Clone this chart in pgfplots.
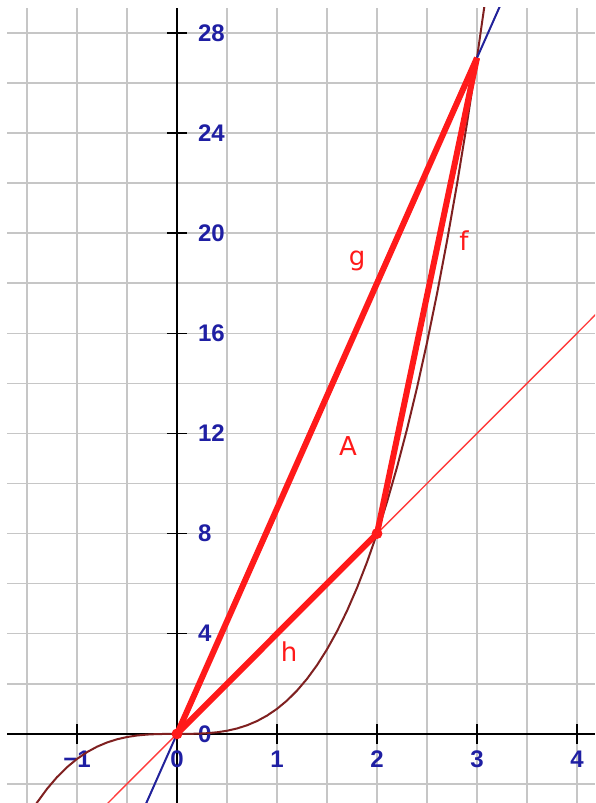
\documentclass[border=0pt]{standalone}
\usepackage{fontspec}
\setmainfont{Liberation Sans}
\newfontfamily\lblfont{DejaVu Sans}
\usepackage{pgfplots}
\pgfplotsset{compat=1.18}
\definecolor{gridgray}{HTML}{C6C6C6}
\definecolor{ticblue}{HTML}{1F1FA3}
\definecolor{segred}{HTML}{FF1A1A}
\definecolor{cubred}{HTML}{7F2020}
\definecolor{lineblue}{HTML}{22229A}
\definecolor{thinred}{HTML}{FF3B3B}

\begin{document}
\begin{tikzpicture}
\useasboundingbox (-3.5pt,0) rectangle (294pt,401.5pt);
\fill[white] (-3.5pt,0) rectangle (294pt,401.5pt);
\begin{axis}[
  at={(0,0)}, anchor=south west,
  scale only axis, width=294pt, height=397.5pt,
  xmin=-1.70, xmax=4.18, ymin=-2.76, ymax=28.99,
  enlargelimits=false,
  axis lines=middle,
  axis line style={-, black, line width=1pt},
  xtick={-1,0,1,2,3,4}, xticklabels={−1,0,1,2,3,4},
  ytick={0,4,...,28}, yticklabels={0,4,8,12,16,20,24,28},
  minor xtick={-1.5,-1,...,4},
  minor ytick={-2,0,...,28},
  grid=minor,
  minor grid style={gridgray, line width=0.75pt},
  minor tick length=0pt,
  major tick length=10pt,
  tick align=center,
  tick style={black, line width=0.75pt},
  hide obscured x ticks=false,
  hide obscured y ticks=false,
  ticklabel style={font=\fontsize{12}{14}\selectfont\bfseries, text=ticblue},
  xticklabel style={anchor=north, yshift=0pt},
  yticklabel style={anchor=west, xshift=12pt},
]
% cubic y = x^3
\addplot[cubred, line width=1pt] coordinates {
  (-1.7,-4.913) (-1.6,-4.096) (-1.5,-3.375) (-1.4,-2.744) (-1.3,-2.197)
  (-1.2,-1.728) (-1.1,-1.331) (-1.0,-1) (-0.9,-0.729) (-0.8,-0.512)
  (-0.7,-0.343) (-0.6,-0.216) (-0.5,-0.125) (-0.4,-0.064) (-0.3,-0.027)
  (-0.2,-0.008) (-0.1,-0.001) (0,0) (0.1,0.001) (0.2,0.008) (0.3,0.027)
  (0.4,0.064) (0.5,0.125) (0.6,0.216) (0.7,0.343) (0.8,0.512) (0.9,0.729)
  (1.0,1) (1.1,1.331) (1.2,1.728) (1.3,2.197) (1.4,2.744) (1.5,3.375)
  (1.6,4.096) (1.7,4.913) (1.8,5.832) (1.9,6.859) (2.0,8) (2.1,9.261)
  (2.2,10.648) (2.3,12.167) (2.4,13.824) (2.5,15.625) (2.6,17.576)
  (2.7,19.683) (2.8,21.952) (2.9,24.389) (3.0,27) (3.1,29.791) (3.2,32.768)
};
\addplot[lineblue, line width=1pt] coordinates {(-0.4,-3.6) (3.4,30.6)};
\addplot[thinred, line width=0.7pt] coordinates {(-0.8,-3.2) (4.3,17.2)};
\addplot[segred, line width=3pt] coordinates {(0,0) (3,27)};
\addplot[segred, line width=3pt] coordinates {(2,8) (3,27)};
\addplot[segred, line width=3pt] coordinates {(0,0) (2,8)};
\addplot[only marks, mark=*, mark size=2.5pt, segred] coordinates {(0,0) (2,8)};
\node[text=segred, font=\lblfont\fontsize{13}{15}\selectfont] at (axis cs:1.8,18.9) {g};
\node[text=segred, font=\lblfont\fontsize{13}{15}\selectfont] at (axis cs:2.87,19.7) {f};
\node[text=segred, font=\lblfont\fontsize{13}{15}\selectfont] at (axis cs:1.71,11.5) {A};
\node[text=segred, font=\lblfont\fontsize{13}{15}\selectfont] at (axis cs:1.12,3.3) {h};
\end{axis}
\end{tikzpicture}
\end{document}
